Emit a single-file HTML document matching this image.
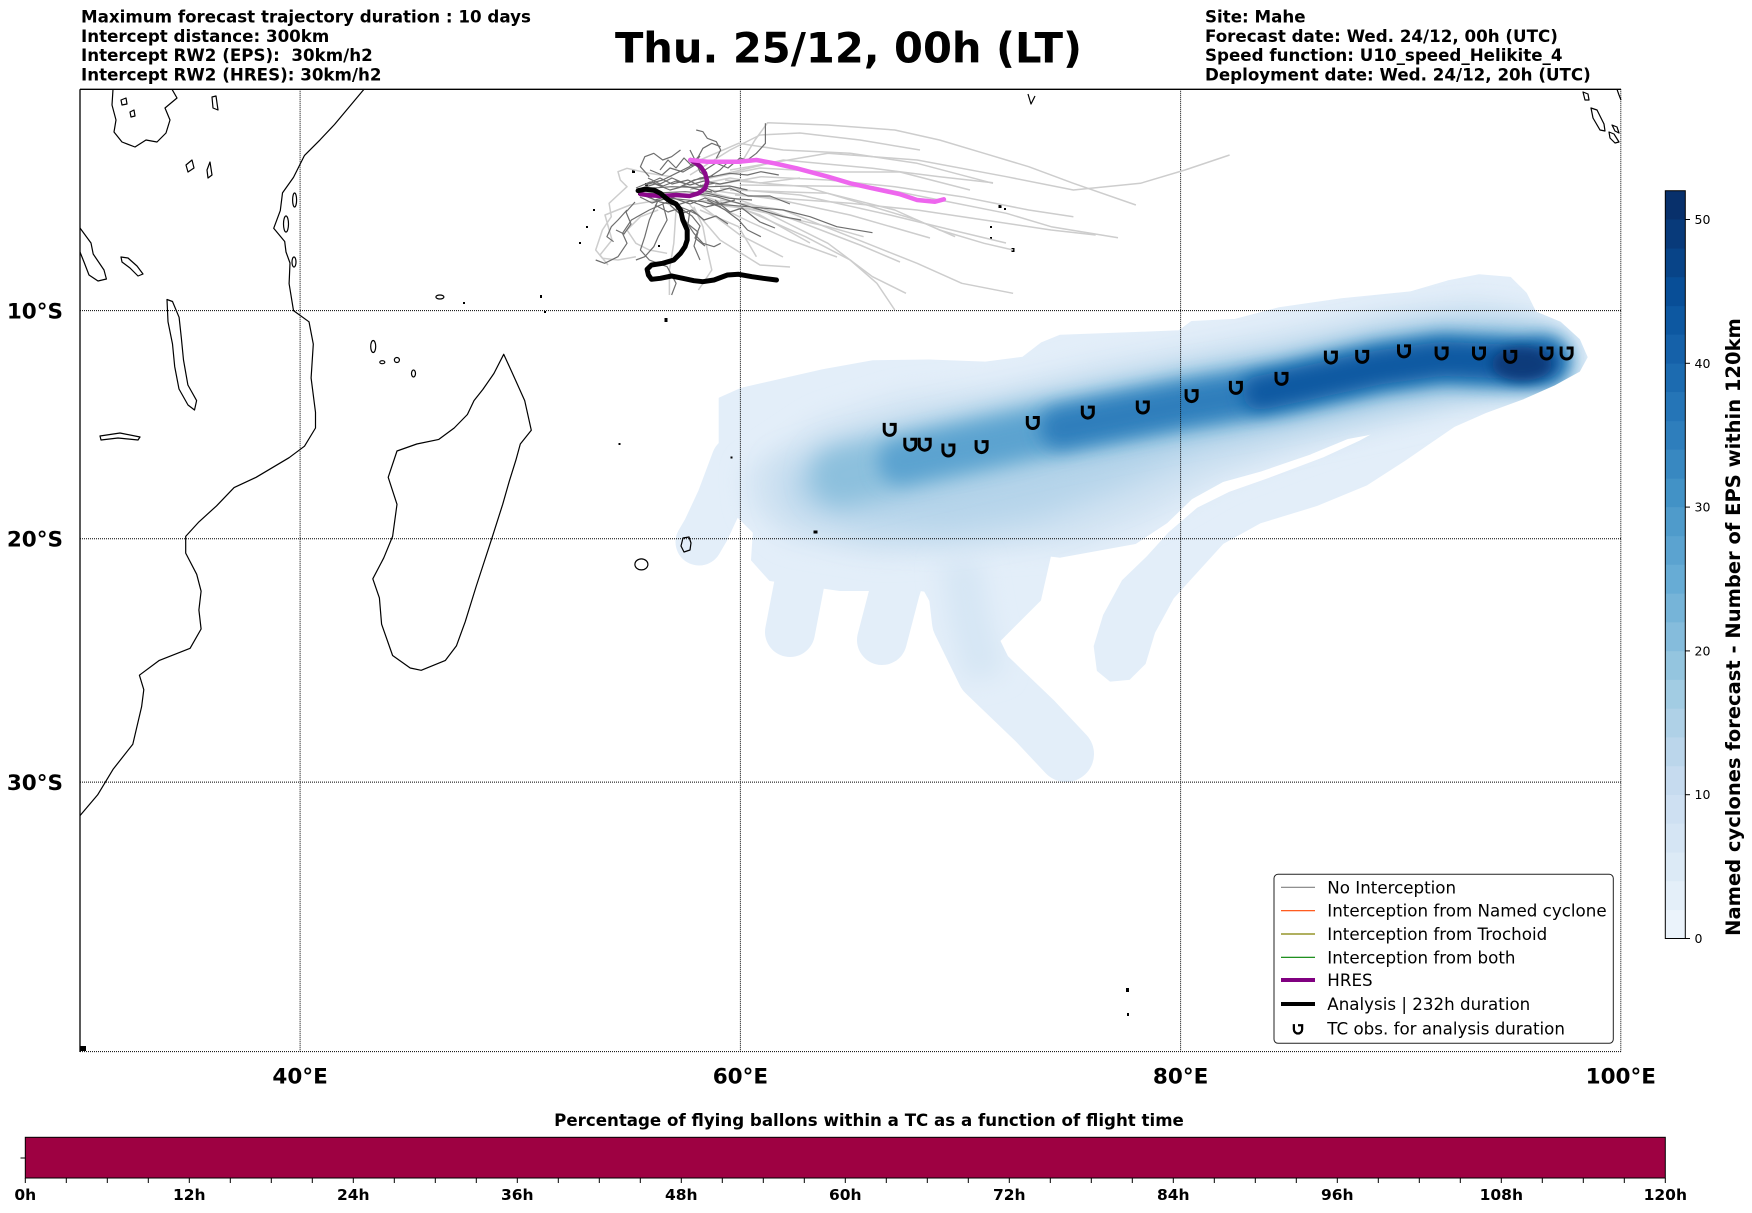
<!DOCTYPE html>
<html><head><meta charset="utf-8"><style>
html,body{margin:0;padding:0;background:#fff;}
svg{display:block;font-family:"DejaVu Sans","Liberation Sans",sans-serif;}
</style></head><body>
<svg width="1752" height="1213" viewBox="0 0 1752 1213" xmlns="http://www.w3.org/2000/svg">
<defs>
<filter id="b6" filterUnits="userSpaceOnUse" x="0" y="0" width="1752" height="1213"><feGaussianBlur stdDeviation="6"/></filter>
<filter id="b9" filterUnits="userSpaceOnUse" x="0" y="0" width="1752" height="1213"><feGaussianBlur stdDeviation="9"/></filter>
<filter id="b12" filterUnits="userSpaceOnUse" x="0" y="0" width="1752" height="1213"><feGaussianBlur stdDeviation="12"/></filter>
<filter id="b16" filterUnits="userSpaceOnUse" x="0" y="0" width="1752" height="1213"><feGaussianBlur stdDeviation="16"/></filter>
<mask id="env" maskUnits="userSpaceOnUse" x="0" y="0" width="1752" height="1213">
<g fill="#fff" stroke="#fff" stroke-linejoin="round" stroke-linecap="round">
<polygon stroke-width="2" points="719.7,398.4 741.6,388.7 822.8,370.2 872.8,361.2 929.1,360.5 985.3,362.6 1022.8,357.8 1041.6,343.3 1060.3,335.7 1135.3,333 1179.1,331.3 1191.6,322 1235.3,319.9 1279.1,308.2 1341.6,299.2 1410.3,292.4 1447.8,281.4 1479.1,275.2 1510.3,277.9 1525.9,293.4 1535.3,312.3 1560.3,322.7 1579.1,339.9 1586.6,357.1 1579.1,370.9 1554.1,384.6 1522.8,398.4 1366.6,434.5 1347.8,438 1310.3,453.5 1260.3,470.7 1222.8,481 1191.6,498.2 1166.6,522.3 1135.3,543 1060.3,556.7 972.8,546.4 897.8,542.9 816.6,539.5 754.1,532.6 722.8,501.6 719.7,467.2"/>
<polygon stroke-width="2" points="1522.8,398.4 1485.3,412.2 1454.1,425.9 1429.1,443.1 1404.1,460.3 1366.6,484.4 1316.6,505.1 1260.3,522.3 1222.8,543 1197.8,570.5 1172.8,598 1154.1,632.4 1144.7,663.4 1129.1,678.9 1110.3,680.6 1097.8,670.3 1094.7,646.2 1104.1,615.2 1122.8,580.8 1147.8,556.7 1169.7,532.6 1197.8,508.5 1229.1,493 1272.8,477.5 1322.8,458.6 1360.3,441.4 1372.8,434.5"/>
<polygon stroke-width="2" points="754,530 1050,540 1045,575 990,600 920,590 840,590 770,580 752,560"/>
<polygon stroke-width="2" points="905,555 1050,556 1040,600 1000,640 975,660 950,640 930,600"/>
<polyline fill="none" stroke-width="47" points="735,460 720,500 706,530 699,542"/>
<polyline fill="none" stroke-width="50" points="812,530 800,580 790,632"/>
<polyline fill="none" stroke-width="50" points="912,535 895,590 882,640"/>
<polyline fill="none" stroke-width="56" points="954,570 960,622 985,673 1035,721 1066,754"/>
</g>
</mask>
<g id="tc"><path d="M-5.5,-6.5 L-5.5,0.5 A5.5,5.5 0 1 0 5.5,0.5 L5.5,-5 L0,-5" fill="none" stroke="#000" stroke-width="3"/></g>
</defs>

<!-- density field -->
<g mask="url(#env)">
<rect x="560" y="250" width="1080" height="560" fill="#e3eef9"/>
<polygon filter="url(#b12)" fill="#d3e4f3" points="745,470 820,420 900,395 1000,385 1100,360 1190,345 1280,330 1380,310 1470,300 1530,310 1560,345 1540,380 1470,400 1380,425 1300,450 1220,480 1150,520 1080,545 980,550 880,555 790,540 750,510"/>
<polyline filter="url(#b12)" fill="none" stroke="#d6e6f4" stroke-width="40" points="960,560 970,620 985,677"/>
<polygon filter="url(#b16)" fill="#b5d4ea" points="780,470 900,430 1000,410 1100,390 1200,370 1300,350 1400,330 1480,320 1540,330 1550,365 1500,390 1400,410 1300,430 1200,455 1120,490 1040,520 950,535 860,530 790,510"/>
<polyline filter="url(#b12)" fill="none" stroke="#8cc0dd" stroke-width="60" stroke-linecap="round" points="840,476 910.3,460.3 1035.3,432.8 1179.1,405.3 1285.3,388.1 1379.1,367.4 1441.6,358.8 1522.8,362.2 1545,360.5"/>
<polyline filter="url(#b9)" fill="none" stroke="#5ba3d0" stroke-width="44" stroke-linecap="round" points="900,462 1035.3,432.8 1179.1,405.3 1285.3,388.1 1379.1,367.4 1441.6,358.8 1522.8,362.2 1545,360.5"/>
<polyline filter="url(#b9)" fill="none" stroke="#2e7ebc" stroke-width="40" stroke-linecap="round" points="1060,428 1179.1,405.3 1285.3,388.1 1379.1,367.4 1441.6,358.8 1522.8,362.2 1545,360.5"/>
<polyline filter="url(#b9)" fill="none" stroke="#0d58a1" stroke-width="34" stroke-linecap="round" points="1260,393 1379.1,367.4 1441.6,358.8 1522.8,362.2 1545,361"/>
<ellipse filter="url(#b6)" cx="1522" cy="364" rx="30" ry="17" fill="#083a7a"/>
</g>

<!-- gridlines -->
<g stroke="#000" stroke-width="1" stroke-dasharray="1,1" fill="none">
<line x1="300.1" y1="89.3" x2="300.1" y2="1051.6"/>
<line x1="740.4" y1="89.3" x2="740.4" y2="1051.6"/>
<line x1="1180.6" y1="89.3" x2="1180.6" y2="1051.6"/>
<line x1="1620.8" y1="89.3" x2="1620.8" y2="1051.6"/>
<line x1="80" y1="310.6" x2="1621" y2="310.6"/>
<line x1="80" y1="538.8" x2="1621" y2="538.8"/>
<line x1="80" y1="782.1" x2="1621" y2="782.1"/>
<line x1="80" y1="1051.6" x2="1621" y2="1051.6"/>
</g>

<!-- coastlines -->
<g fill="none" stroke="#000" stroke-width="1.2" stroke-linejoin="round">
<polyline points="364,89.3 334.5,124.5 320,139.9 304.5,155.4 293.5,177.4 282.5,192.9 280.3,210.6 273.7,228.3 284.7,241.5 286,252 290,263 289.1,283.7 293.5,310.6 309,321.8 313.3,344.1 311.1,378 315.5,412.3 315.5,428 304.5,446.2 289.1,457.7 256.1,477.3 234.1,487.6 216.5,505.9 198.9,521.9 185.7,536.4 185.7,553.1 196.7,574.3 201.1,591.2 198.9,610 201.1,629 190.1,648.3 159.3,660.4 139.4,675.2 143.8,689.7 141.6,706.8 132.8,744.2 113,769.4 97.6,794.9 80,815.6"/>
<polygon points="503.7,354.3 511.5,371.2 524.7,400.6 531.3,430.2 520.3,444 515.9,460.1 509.3,481.2 502.7,504.3 491.7,538.8 476.3,586 465.2,621.8 456.4,645.9 445.4,660.4 421.2,670.3 410.2,668 392.6,655.5 381.6,624.2 379.4,597.9 372.8,578.8 383.8,557.8 392.6,536.4 397,504.3 388.2,477.3 397,451 416.8,444 438.8,439.4 454.2,428 467.4,414.5 474,400.6 482.9,389.4 493.9,373.5"/>
<polyline points="113,89.3 112,105 116,120 114,132 122,142 135,147 146,140 157,142 166,133 170,120 165,108 177,98 172,89.3"/>
<polygon points="121,100 126,98 127,104 122,105"/>
<polygon points="130,112 134,110 135,116 131,117"/>
<polyline points="80,228 91,243 93.2,254 104,270 106.4,279 98,281 89,275 84,262 80,252"/>
<polygon points="121,257 128,258 137,266 143,274 138,276 130,268 122,262"/>
<polygon points="167,299.5 168,321.8 172.5,344 174.7,366.6 179,389 188,405 194.5,410 196.6,400.6 187.9,385 183.5,360 181.3,337.6 179.1,317.3 172.5,301.5"/>
<polygon points="100,436 120,433 140,437 138,440 118,438 101,440"/>
<polygon points="186,165 192,160 194,168 188,172"/>
<polygon points="207,170 210,162 212,175 208,178"/>
<polygon points="212,97 216,96 218,110 213,108"/>
<ellipse cx="294.6" cy="200" rx="2" ry="7"/>
<ellipse cx="286" cy="224" rx="2.5" ry="8"/>
<ellipse cx="294" cy="262" rx="2" ry="5"/>
<ellipse cx="373.2" cy="346.5" rx="2.5" ry="6"/>
<ellipse cx="382.3" cy="362.2" rx="2.5" ry="1.5"/>
<ellipse cx="396.9" cy="360" rx="2.5" ry="2.5"/>
<ellipse cx="413.5" cy="373.5" rx="2" ry="3.5"/>
<ellipse cx="439.9" cy="297" rx="4" ry="2"/>
<polygon points="683,538 689,537 691,543 690,550 684,552 681,546"/>
<ellipse cx="641.4" cy="564.4" rx="6.5" ry="5.5"/>
<polygon points="1591,108 1597,110 1604,124 1605,131 1600,130 1593,118"/>
<polygon points="1609,132 1614,134 1619,142 1615,143 1610,138"/>
<polygon points="1583,92 1588,94 1589,100 1585,100"/>
<polyline points="1617,89.3 1619,95 1621,100"/>
<polyline points="1028,94 1031,104 1035,96"/>
<polygon points="1612,125 1617,127 1619,133 1615,131"/>
</g>
<g fill="#000">
<rect x="638" y="190" width="4" height="5"/>
<rect x="645" y="183" width="3" height="3"/>
<rect x="632" y="170" width="3" height="3"/>
<rect x="593" y="209" width="2" height="2"/>
<rect x="586" y="226" width="2" height="2"/>
<rect x="579" y="242" width="2" height="2"/>
<rect x="463" y="302" width="2" height="2"/>
<rect x="540" y="295" width="2" height="3"/>
<rect x="544" y="311" width="2" height="2"/>
<rect x="658" y="245" width="2" height="2"/>
<rect x="664.5" y="318" width="3" height="4"/>
<rect x="618.5" y="443" width="2" height="2"/>
<rect x="730.5" y="456.5" width="2" height="2"/>
<rect x="813.5" y="530.5" width="4" height="3"/>
<rect x="998.5" y="205" width="3" height="3"/>
<rect x="1004" y="208" width="2" height="2"/>
<rect x="990" y="226" width="2" height="2"/>
<rect x="990" y="237" width="2" height="2"/>
<rect x="1011.5" y="248" width="3" height="4"/>
<rect x="1126" y="988" width="3" height="4"/>
<rect x="1127" y="1013" width="2" height="3"/>
<rect x="80" y="1046" width="6" height="5"/>
</g>

<!-- light grey trajectories -->
<g fill="none" stroke="#cdcdcd" stroke-width="1.5" stroke-linejoin="round">
<polyline points="740,165 755,140 767.6,122.7 827.9,125 894.8,130 939.5,140 984.1,153.3 1028.7,166.7 1073.4,183.3 1135.9,205"/>
<polyline points="730,170 827.9,153.3 917.1,160 1006.4,176.7 1073.4,190 1140.4,183.3 1185,170 1229.6,155"/>
<polyline points="740,185 872.5,186.7 939.5,200 1006.4,213.3 1051.1,226.7 1118,237.7"/>
<polyline points="735,195 850.2,203.3 917.1,210 984.1,220 1051.1,230 1095.7,235"/>
<polyline points="720,175 783.2,160 872.5,168.3 939.5,176.7 993,182.7"/>
<polyline points="730,190 827.9,193.3 894.8,210 939.5,230 984.1,243.3 1013.1,250"/>
<polyline points="720,200 783.2,210 850.2,236.7 917.1,263.3 961.8,283.3 1013.1,293.3"/>
<polyline points="715,205 760.9,210 827.9,243.3 872.5,276.7 906,293.3"/>
<polyline points="700,200 738.6,206.7 805.5,236.7 850.2,260 876.9,283.3 894.8,310"/>
<polyline points="725,180 805.5,186.7 872.5,206.7 917.1,220 955.1,236.7"/>
<polyline points="730,205 783.2,216.7 827.9,226.7 863.6,236.7"/>
<polyline points="700,160 738.6,143.3 783.2,150 850.2,153.3 917.1,163.3 993,183.3"/>
<polyline points="715,185 760.9,176.7 827.9,180 894.8,186.7 961.8,196.7 1028.7,210 1073.4,216.7"/>
<polyline points="700,195 760,215 810,243"/>
<polyline points="705,200 750,222 790,240 837,257"/>
<polyline points="710,190 780,200 850,215 930,238"/>
<polyline points="720,188 800,195 890,215 960,232 1006,243"/>
<polyline points="700,210 738.6,226.7 756.4,256.7"/>
<polyline points="700,205 740,235 783,257"/>
<polyline points="690,205 720,240 760,265 790,267"/>
<polyline points="700,190 740,200 800,222 860,245 900,262"/>
<polyline points="700,180 760,168 830,172 900,172 970,190"/>
<polyline points="690,175 730,150 760,135 800,133 860,140 920,150"/>
<polyline points="671.6,176.7 649.3,173.3 627,168.3 618,171.7 620.3,180 627,186.7 618,195 609.1,203.3 611.3,216.7 602.4,230 595.7,250 602.4,258.3 618,260 635.9,256.7"/>
<polyline points="658.2,210 640.4,216.7 627,230 635.9,243.3 649.3,250 667.1,253.3"/>
<polyline points="693.9,206.7 702.9,226.7 707.3,250 711.8,270 698.4,290"/>
<polyline points="676,210 673.8,243.3 669.4,270 669.4,295"/>
<polyline points="660,200 630,205 605,215 612,240 600,255 608,265"/>
<polyline points="690,190 710,182 730,178 760,183 800,178"/>
</g>

<!-- dark grey trajectories -->
<g fill="none" stroke="#6e6e6e" stroke-width="1.2" stroke-linejoin="round">
<polyline points="638.1,190 649.3,188.3 671.6,186.7 693.9,187.3 711.8,186.7 729.6,186 747.5,190"/>
<polyline points="638.1,193.3 662.7,192.7 685,191.7 707.3,193.3 729.6,198.3 752,200"/>
<polyline points="640.4,195 658.2,197.3 680.5,199.3 702.9,201.7 720.7,206.7"/>
<polyline points="644.8,185 662.7,180 676.1,173.3 689.5,166.7 698.4,156.7 702.9,148.3 711.8,143.3 720.7,146.7"/>
<polyline points="696.2,130 702.9,131.7 707.3,138.3 716.3,141.7 720.7,150 716.3,158.3"/>
<polyline points="765.4,123.3 765.4,143.3 756.4,153.3 747.5,160"/>
<polyline points="707.3,203.3 747.5,206.7 783.2,210 810,216.7 836.8,226.7 872.5,232.7"/>
<polyline points="671.6,200 649.3,210 631.4,220 622.5,233.3 627,243.3 618,256.7 604.6,263.3 595.7,260"/>
<polyline points="662.7,203.3 667.1,220 658.2,236.7 653.8,246.7 644.8,256.7 635.9,260"/>
<polyline points="676.1,206.7 685,220 693.9,233.3 702.9,243.3 714,246.7 720.7,243.3"/>
<polyline points="649.3,176.7 640.4,166.7 644.8,156.7 653.8,153.3 662.7,160 671.6,156.7 680.5,150"/>
<polyline points="680.5,186.7 693.9,180 711.8,176.7 729.6,173.3 747.5,175 760.9,171.7 778.8,175"/>
<polyline points="693.9,193.3 716.3,196.7 738.6,203.3 760.9,210 783.2,216.7 801.1,220"/>
<polyline points="627,210 618,220 611.3,226.7 606.9,236.7 613.6,241.7"/>
<polyline points="658.2,200 649.3,220 644.8,236.7 640.4,250 649.3,260 667.1,266.7 676.1,283.3 671.6,295"/>
<polyline points="707.3,200 725.2,210 738.6,220 747.5,230 760.9,236.7"/>
<polyline points="645,185 660,178 672,184 688,180 700,186 715,183"/>
<polyline points="640,192 655,200 668,196 690,204 705,198 720,204 735,200"/>
<polyline points="650,170 662,175 670,168 683,172 695,165 703,170"/>
<polyline points="655,205 668,212 680,208 692,216 700,226 695,238 705,246"/>
<polyline points="690,150 695,160 700,172 708,178 720,170 728,162 738,160"/>
<polyline points="642,188 655,184 670,190 685,186 700,190 712,192"/>
<polyline points="645,196 660,202 675,205 688,210 698,215"/>
<polyline points="636,188 650,182 663,186 676,181 690,185 704,181 720,184 740,180"/>
<polyline points="640,197 652,203 664,199 677,205 690,201 706,207 722,203"/>
<polyline points="648,178 660,184 672,178 686,184 700,178 713,176"/>
<polyline points="660,170 668,160 676,168 684,158 692,166 700,156"/>
<polyline points="670,205 680,214 692,210 704,220 716,216 728,224"/>
<polyline points="635,202 626,212 631,224 624,234 616,230"/>
<polyline points="705,170 716,163 728,168 740,158 752,162"/>
<polyline points="690,210 688,224 698,232 694,246 700,260"/>
<polyline points="715,200 730,212 742,208 760,222 775,228"/>
<polyline points="700,185 715,192 730,188 748,196 770,196 790,204"/>
</g>

<!-- HRES -->
<polyline fill="none" stroke="#8b0a8b" stroke-width="4.5" stroke-linejoin="round" stroke-linecap="round" points="640.4,194 649.3,195.3 662.7,196 676.1,195 689.5,196 698.4,193.3 705.1,188.3 707.3,181.7 705.1,173.3 700.6,166.7 696.2,163.3 690.4,160"/>
<polyline fill="none" stroke="#ee66ee" stroke-width="4.5" stroke-linejoin="round" stroke-linecap="round" points="690.4,160 707.3,161.7 738.6,161.7 756.4,160 774.3,163.3 796.6,168.3 827.9,176.7 850.2,183.3 872.5,188.3 899.3,194 917.1,200 935,201.7 943.9,199.3"/>
<!-- Analysis -->
<polyline fill="none" stroke="#000" stroke-width="5" stroke-linejoin="round" stroke-linecap="round" points="638.1,190.7 644.8,189.3 653.8,190 660.4,193.3 664.9,197.3 669.4,200.7 676.1,204 680.5,210 682.8,220 687.2,230 687.2,240 685,246.7 680.5,253.3 673.8,260 662.7,263.3 651.5,265 647.1,269.3 648.4,275 651.5,279.3 660.4,278.3 671.6,276 682.8,278.3 693.9,280.7 702.9,281.7 714,280 727.4,275 738.6,274.3 752,276.7 763.1,278.3 776.5,280"/>

<!-- TC symbols -->
<use href="#tc" x="889.7" y="429.4"/>
<use href="#tc" x="910.3" y="444.2"/>
<use href="#tc" x="924.7" y="444.2"/>
<use href="#tc" x="948.4" y="450"/>
<use href="#tc" x="981.6" y="446.6"/>
<use href="#tc" x="1032.8" y="422.5"/>
<use href="#tc" x="1087.8" y="412.1"/>
<use href="#tc" x="1142.8" y="407"/>
<use href="#tc" x="1191.6" y="395.6"/>
<use href="#tc" x="1235.9" y="387.4"/>
<use href="#tc" x="1281.5" y="378.4"/>
<use href="#tc" x="1330.9" y="357.1"/>
<use href="#tc" x="1362.2" y="356.4"/>
<use href="#tc" x="1404" y="350.9"/>
<use href="#tc" x="1441.6" y="353"/>
<use href="#tc" x="1479" y="353"/>
<use href="#tc" x="1510.3" y="356.4"/>
<use href="#tc" x="1546.5" y="353"/>
<use href="#tc" x="1566.6" y="353"/>

<!-- axes frame -->
<line x1="80" y1="89.3" x2="1621" y2="89.3" stroke="#000" stroke-width="1.3"/>
<line x1="80" y1="89.3" x2="80" y2="1052" stroke="#000" stroke-width="1.3"/>

<!-- legend -->
<rect x="1274" y="874.3" width="339.3" height="169" rx="4" fill="#fff" stroke="#222" stroke-width="1"/>
<line x1="1281" y1="887.3" x2="1315" y2="887.3" stroke="#808080" stroke-width="1.2"/>
<line x1="1281" y1="910.7" x2="1315" y2="910.7" stroke="#ff4500" stroke-width="1.2"/>
<line x1="1281" y1="934" x2="1315" y2="934" stroke="#808000" stroke-width="1.2"/>
<line x1="1281" y1="957.3" x2="1315" y2="957.3" stroke="#008000" stroke-width="1.2"/>
<line x1="1281" y1="980" x2="1315" y2="980" stroke="#800080" stroke-width="4"/>
<line x1="1281" y1="1004" x2="1315" y2="1004" stroke="#000" stroke-width="4"/>
<g transform="translate(1298,1029) scale(0.75)"><use href="#tc"/></g>
<g font-size="16.7" fill="#000">
<text x="1327.3" y="893.3">No Interception</text>
<text x="1327.3" y="916.7">Interception from Named cyclone</text>
<text x="1327.3" y="940">Interception from Trochoid</text>
<text x="1327.3" y="963.3">Interception from both</text>
<text x="1327.3" y="986">HRES</text>
<text x="1327.3" y="1010">Analysis | 232h duration</text>
<text x="1327.3" y="1034.3">TC obs. for analysis duration</text>
</g>

<!-- axis labels -->
<g font-size="21.5" font-weight="bold" fill="#000">
<text x="300.1" y="1083.3" text-anchor="middle">40°E</text>
<text x="740.4" y="1083.3" text-anchor="middle">60°E</text>
<text x="1180.6" y="1083.3" text-anchor="middle">80°E</text>
<text x="1620.8" y="1083.3" text-anchor="middle">100°E</text>
<text x="63" y="318.3" text-anchor="end">10°S</text>
<text x="63" y="546.5" text-anchor="end">20°S</text>
<text x="63" y="789.8" text-anchor="end">30°S</text>
</g>

<!-- header -->
<g font-size="16.7" font-weight="bold" fill="#000">
<text x="81" y="22.5">Maximum forecast trajectory duration : 10 days</text>
<text x="81" y="41.8">Intercept distance: 300km</text>
<text x="81" y="61.1">Intercept RW2 (EPS):&#160; 30km/h2</text>
<text x="81" y="80.4">Intercept RW2 (HRES): 30km/h2</text>
<text x="1205" y="22.5">Site: Mahe</text>
<text x="1205" y="41.8">Forecast date: Wed. 24/12, 00h (UTC)</text>
<text x="1205" y="61.1">Speed function: U10_speed_Helikite_4</text>
<text x="1205" y="80.4">Deployment date: Wed. 24/12, 20h (UTC)</text>
</g>
<text x="848.5" y="62.7" font-size="41.6" font-weight="bold" text-anchor="middle" fill="#000">Thu. 25/12, 00h (LT)</text>

<!-- right colorbar -->
<g>
<rect x="1665.3" y="909.74" width="20" height="29.06" fill="#ebf3fb"/>
<rect x="1665.3" y="880.98" width="20" height="29.06" fill="#e4eff9"/>
<rect x="1665.3" y="852.22" width="20" height="29.06" fill="#dceaf6"/>
<rect x="1665.3" y="823.46" width="20" height="29.06" fill="#d5e5f4"/>
<rect x="1665.3" y="794.7" width="20" height="29.06" fill="#cee0f2"/>
<rect x="1665.3" y="765.94" width="20" height="29.06" fill="#c6dbef"/>
<rect x="1665.3" y="737.18" width="20" height="29.06" fill="#bbd6eb"/>
<rect x="1665.3" y="708.42" width="20" height="29.06" fill="#afd1e7"/>
<rect x="1665.3" y="679.66" width="20" height="29.06" fill="#a2cce3"/>
<rect x="1665.3" y="650.9" width="20" height="29.06" fill="#94c5df"/>
<rect x="1665.3" y="622.14" width="20" height="29.06" fill="#85bcdc"/>
<rect x="1665.3" y="593.38" width="20" height="29.06" fill="#76b4d8"/>
<rect x="1665.3" y="564.62" width="20" height="29.06" fill="#67acd5"/>
<rect x="1665.3" y="535.86" width="20" height="29.06" fill="#5ba3d0"/>
<rect x="1665.3" y="507.1" width="20" height="29.06" fill="#4f9bcb"/>
<rect x="1665.3" y="478.34" width="20" height="29.06" fill="#4292c6"/>
<rect x="1665.3" y="449.58" width="20" height="29.06" fill="#3888c1"/>
<rect x="1665.3" y="420.82" width="20" height="29.06" fill="#2e7ebc"/>
<rect x="1665.3" y="392.06" width="20" height="29.06" fill="#2575b7"/>
<rect x="1665.3" y="363.3" width="20" height="29.06" fill="#1c6bb0"/>
<rect x="1665.3" y="334.54" width="20" height="29.06" fill="#1561a9"/>
<rect x="1665.3" y="305.78" width="20" height="29.06" fill="#0d58a1"/>
<rect x="1665.3" y="277.02" width="20" height="29.06" fill="#084e97"/>
<rect x="1665.3" y="248.26" width="20" height="29.06" fill="#084488"/>
<rect x="1665.3" y="219.5" width="20" height="29.06" fill="#083a7a"/>
<rect x="1665.3" y="190.74" width="20" height="28.76" fill="#08306b"/>
<rect x="1665.3" y="190.74" width="20" height="747.76" fill="none" stroke="#000" stroke-width="1"/>
<g stroke="#000" stroke-width="1">
<line x1="1685.3" y1="938.5" x2="1690" y2="938.5"/>
<line x1="1685.3" y1="794.7" x2="1690" y2="794.7"/>
<line x1="1685.3" y1="650.9" x2="1690" y2="650.9"/>
<line x1="1685.3" y1="507.1" x2="1690" y2="507.1"/>
<line x1="1685.3" y1="363.3" x2="1690" y2="363.3"/>
<line x1="1685.3" y1="219.5" x2="1690" y2="219.5"/>
</g>
<g font-size="12.5" fill="#000">
<text x="1694.5" y="943">0</text>
<text x="1694.5" y="799.2">10</text>
<text x="1694.5" y="655.4">20</text>
<text x="1694.5" y="511.6">30</text>
<text x="1694.5" y="367.8">40</text>
<text x="1694.5" y="224">50</text>
</g>
<text transform="translate(1740,627) rotate(-90)" text-anchor="middle" font-size="19.5" font-weight="bold" fill="#000">Named cyclones forecast - Number of EPS within 120km</text>
</g>

<!-- bottom colorbar -->
<text x="869" y="1126" text-anchor="middle" font-size="16.65" font-weight="bold" fill="#000">Percentage of flying ballons within a TC as a function of flight time</text>
<rect x="25.3" y="1137.3" width="1640" height="40.7" fill="#9e0142" stroke="#000" stroke-width="1"/>
<line x1="20.5" y1="1158" x2="25.3" y2="1158" stroke="#000" stroke-width="1"/>
<g stroke="#000" stroke-width="1">
<line x1="25.3" y1="1178" x2="25.3" y2="1183"/><line x1="66.3" y1="1178" x2="66.3" y2="1183"/><line x1="107.3" y1="1178" x2="107.3" y2="1183"/><line x1="148.3" y1="1178" x2="148.3" y2="1183"/>
<line x1="189.3" y1="1178" x2="189.3" y2="1183"/><line x1="230.3" y1="1178" x2="230.3" y2="1183"/><line x1="271.3" y1="1178" x2="271.3" y2="1183"/><line x1="312.3" y1="1178" x2="312.3" y2="1183"/>
<line x1="353.3" y1="1178" x2="353.3" y2="1183"/><line x1="394.3" y1="1178" x2="394.3" y2="1183"/><line x1="435.3" y1="1178" x2="435.3" y2="1183"/><line x1="476.3" y1="1178" x2="476.3" y2="1183"/>
<line x1="517.3" y1="1178" x2="517.3" y2="1183"/><line x1="558.3" y1="1178" x2="558.3" y2="1183"/><line x1="599.3" y1="1178" x2="599.3" y2="1183"/><line x1="640.3" y1="1178" x2="640.3" y2="1183"/>
<line x1="681.3" y1="1178" x2="681.3" y2="1183"/><line x1="722.3" y1="1178" x2="722.3" y2="1183"/><line x1="763.3" y1="1178" x2="763.3" y2="1183"/><line x1="804.3" y1="1178" x2="804.3" y2="1183"/>
<line x1="845.3" y1="1178" x2="845.3" y2="1183"/><line x1="886.3" y1="1178" x2="886.3" y2="1183"/><line x1="927.3" y1="1178" x2="927.3" y2="1183"/><line x1="968.3" y1="1178" x2="968.3" y2="1183"/>
<line x1="1009.3" y1="1178" x2="1009.3" y2="1183"/><line x1="1050.3" y1="1178" x2="1050.3" y2="1183"/><line x1="1091.3" y1="1178" x2="1091.3" y2="1183"/><line x1="1132.3" y1="1178" x2="1132.3" y2="1183"/>
<line x1="1173.3" y1="1178" x2="1173.3" y2="1183"/><line x1="1214.3" y1="1178" x2="1214.3" y2="1183"/><line x1="1255.3" y1="1178" x2="1255.3" y2="1183"/><line x1="1296.3" y1="1178" x2="1296.3" y2="1183"/>
<line x1="1337.3" y1="1178" x2="1337.3" y2="1183"/><line x1="1378.3" y1="1178" x2="1378.3" y2="1183"/><line x1="1419.3" y1="1178" x2="1419.3" y2="1183"/><line x1="1460.3" y1="1178" x2="1460.3" y2="1183"/>
<line x1="1501.3" y1="1178" x2="1501.3" y2="1183"/><line x1="1542.3" y1="1178" x2="1542.3" y2="1183"/><line x1="1583.3" y1="1178" x2="1583.3" y2="1183"/><line x1="1624.3" y1="1178" x2="1624.3" y2="1183"/>
<line x1="1665.3" y1="1178" x2="1665.3" y2="1183"/>
</g>
<g font-size="15.5" font-weight="bold" fill="#000" text-anchor="middle">
<text x="25.3" y="1200">0h</text>
<text x="189.3" y="1200">12h</text>
<text x="353.3" y="1200">24h</text>
<text x="517.3" y="1200">36h</text>
<text x="681.3" y="1200">48h</text>
<text x="845.3" y="1200">60h</text>
<text x="1009.3" y="1200">72h</text>
<text x="1173.3" y="1200">84h</text>
<text x="1337.3" y="1200">96h</text>
<text x="1501.3" y="1200">108h</text>
<text x="1665.3" y="1200">120h</text>
</g>
</svg>
</body></html>
